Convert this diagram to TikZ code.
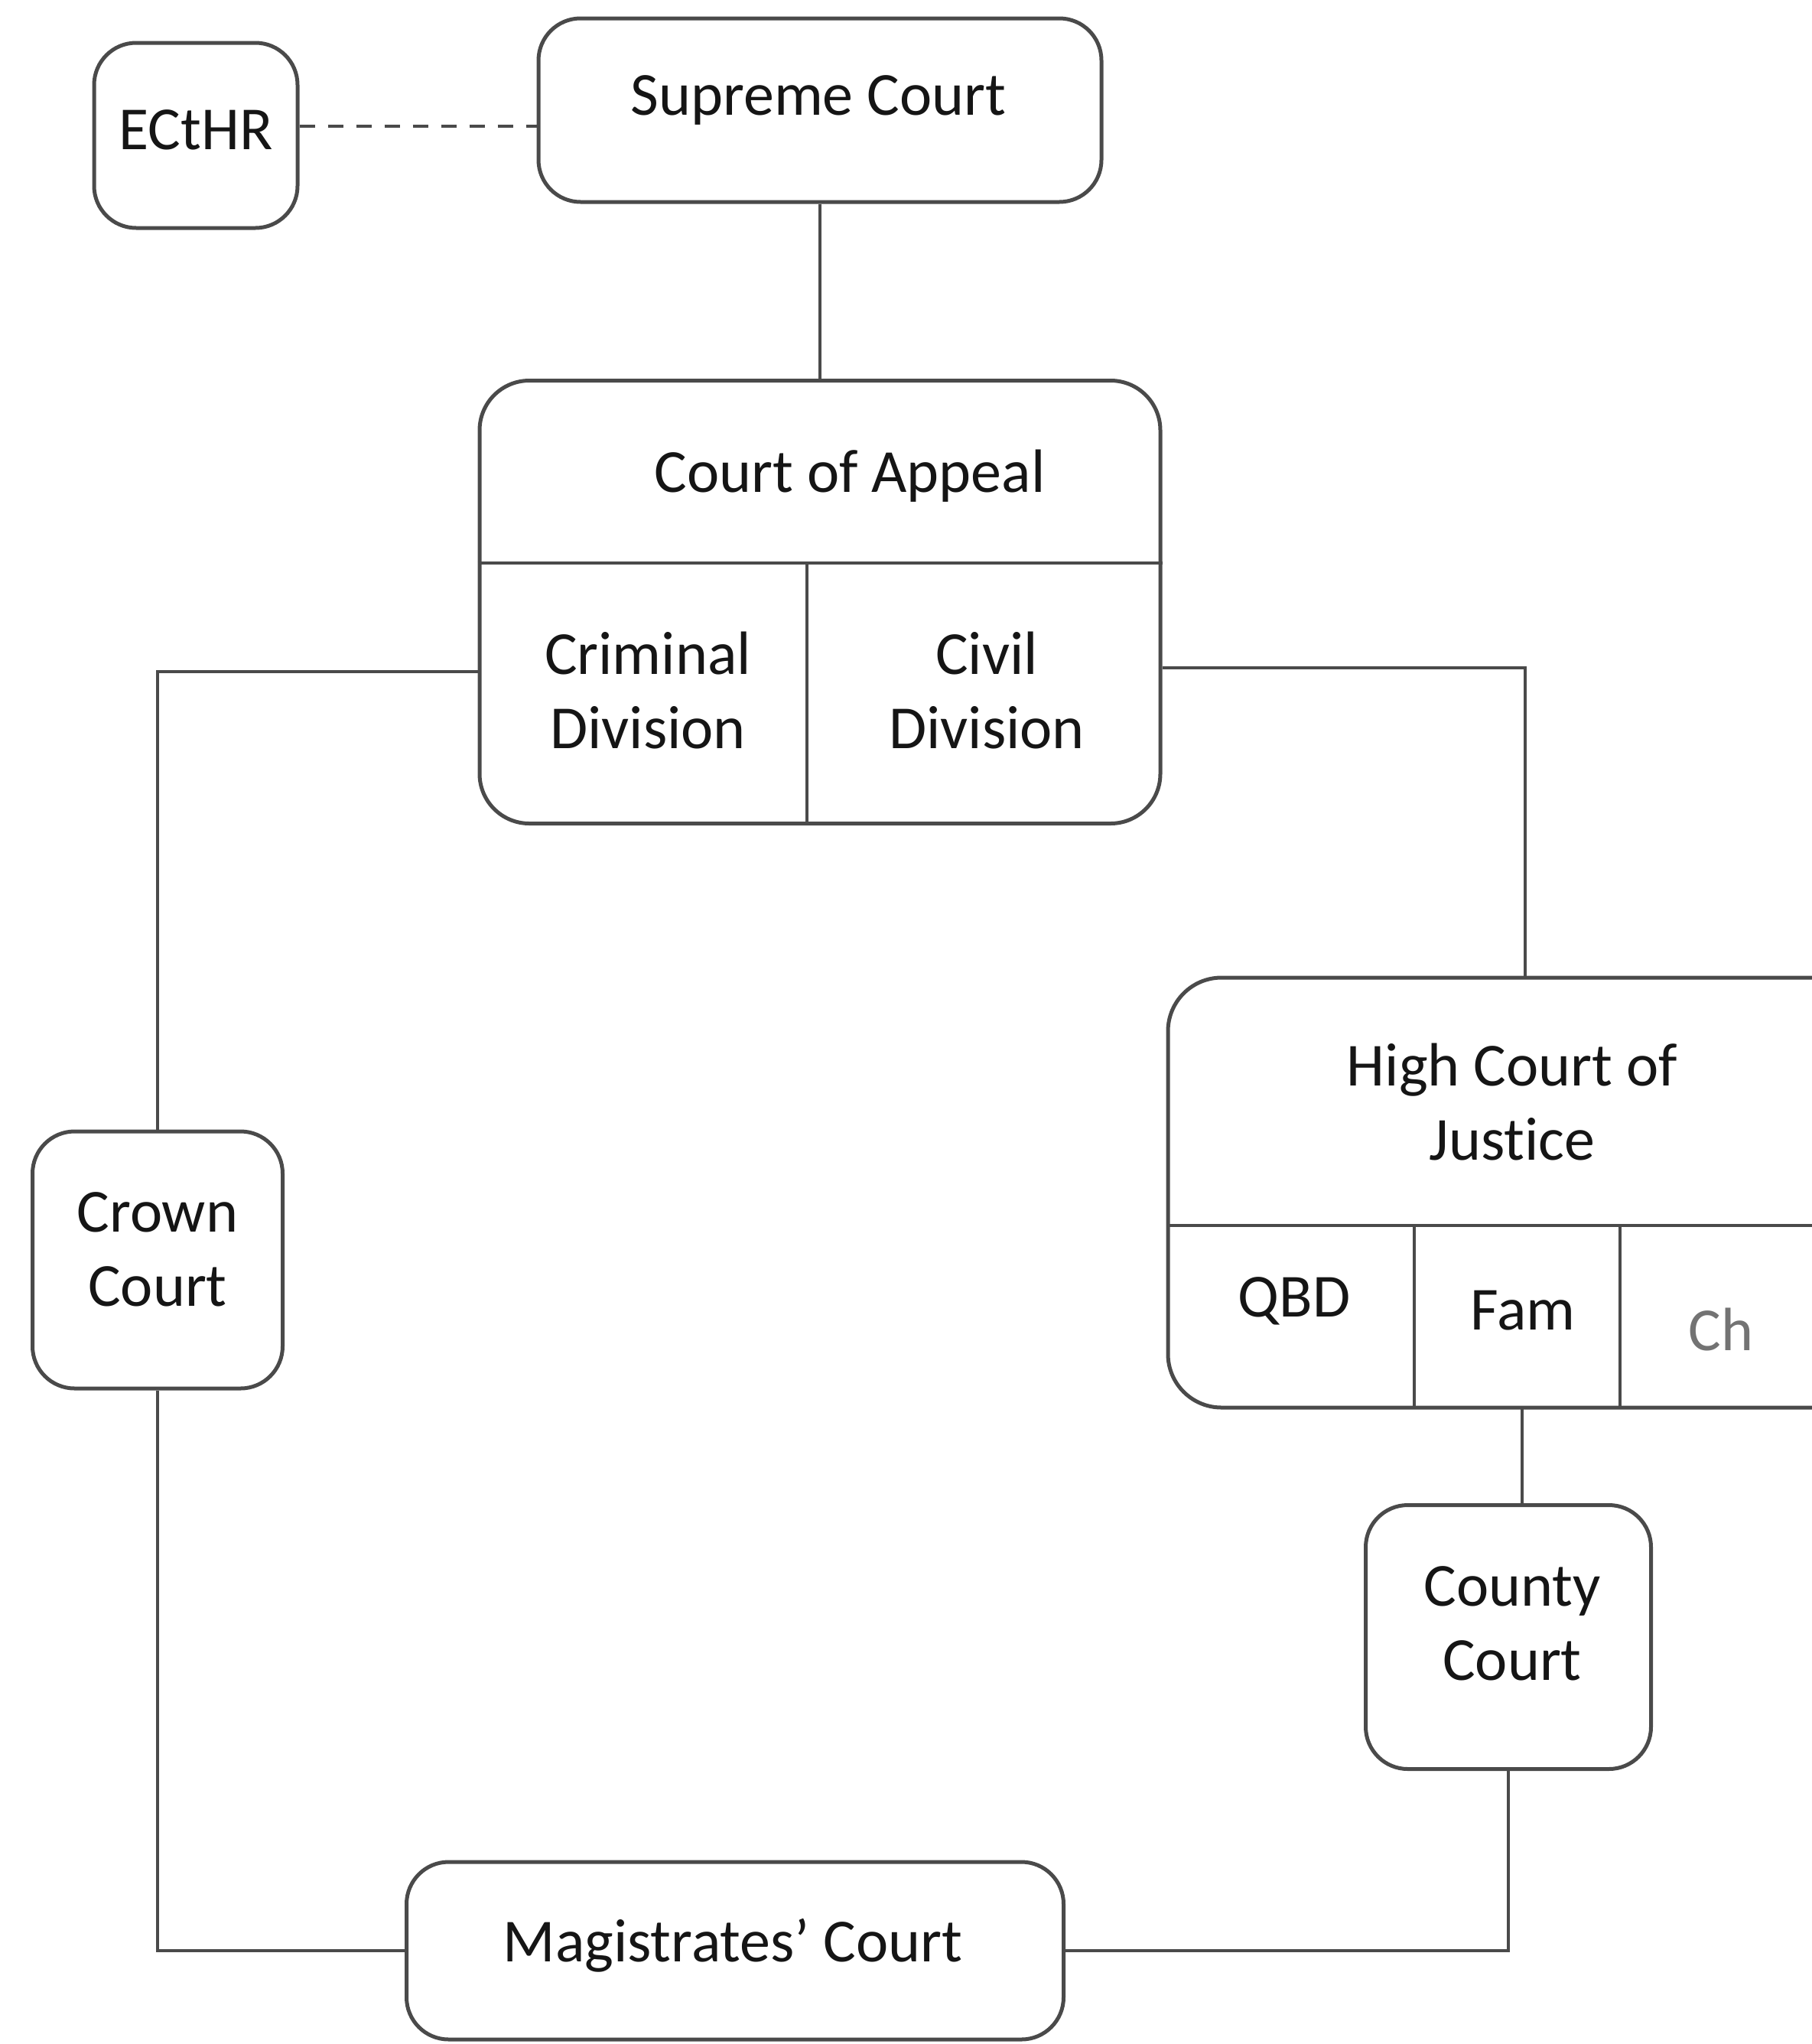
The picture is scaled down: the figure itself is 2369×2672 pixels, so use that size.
\documentclass[tikz,border=0pt]{standalone}
\usepackage{fontspec}
\setmainfont{Carlito}[Ligatures={ResetAll,NoCommon}]
\definecolor{linec}{HTML}{4A4A4A}
\definecolor{txtc}{HTML}{151515}
\begin{document}
\begin{tikzpicture}[x=1pt,y=-1pt,
  box/.style={draw=linec, line width=5pt, rounded corners=55pt, inner sep=0pt},
  lbl/.style={font=\fontsize{80}{97}\selectfont, text=txtc, align=center, inner sep=0pt},
  conn/.style={draw=linec, line width=3.5pt},
  divline/.style={draw=linec, line width=4.5pt}]
\fill[white] (0,0) rectangle (2369,2672);
\useasboundingbox (0,0) rectangle (2369,2672);
% boxes
\node[box, minimum width=266pt, minimum height=242pt] (ecthr) at (256,177) {};
\node[box, minimum width=736pt, minimum height=240pt] (supreme) at (1072,144) {};
\node[box, minimum width=890pt, minimum height=579pt, rounded corners=65pt] (coa) at (1072,787) {};
\node[box, minimum width=327pt, minimum height=336pt] (crown) at (206,1647) {};
\node[box, minimum width=373pt, minimum height=345pt] (county) at (1972,2140) {};
\node[box, minimum width=859pt, minimum height=232pt] (mag) at (961,2550) {};
% High Court (open at right edge)
\coordinate (hctop) at (1994,1278);
\coordinate (hcbot) at (1990,1840);
\draw[divline, line width=5pt, rounded corners=70pt] (2369,1278) -- (1527,1278) -- (1527,1840) -- (2369,1840);
\draw[divline] (1527,1602) -- (2369,1602);
\draw[divline] (1849,1602) -- (1849,1840);
\draw[divline] (2118,1602) -- (2118,1840);
% Court of Appeal dividers
\draw[divline] (coa.west |- 0,736) -- (coa.east |- 0,736);
\draw[divline] (1055,736) -- (coa.south -| 1055,0);
% labels
\node[lbl] (tecthr) at (256,170) {ECtHR};
\node[lbl] (tsupreme) at (1070,131) {Supreme Court};
\node[lbl] (tcoa) at (1111,622) {Court of Appeal};
\node[lbl] (tcrim) at (847,903) {Criminal\\Division};
\node[lbl] (tciv) at (1290,903) {Civil\\Division};
\node[lbl] (tcrown) at (206,1633) {Crown\\Court};
\node[lbl] (thc) at (1977,1440) {High Court of\\Justice};
\node[lbl] (tqbd) at (1692,1701) {QBD};
\node[lbl] (tfam) at (1991,1713) {Fam};
\node[lbl, text=black!55] (tch) at (2250,1738) {Ch};
\node[lbl] (tcounty) at (1977,2122) {County\\Court};
\node[lbl] (tmag) at (958,2543) {Magistrates' Court};
% connectors
\draw[conn, dash pattern=on 20pt off 17pt] (ecthr.east |- 0,165) -- (supreme.west |- 0,165);
\draw[conn] (supreme.south) -- (coa.north);
\draw[conn] (coa.west |- 0,878) -| (crown.north);
\draw[conn] (crown.south) |- (mag.west);
\draw[conn] (coa.east |- 0,873) -| (hctop);
\draw[conn] (hcbot) -- (hcbot |- county.north);
\draw[conn] (county.south) |- (mag.east);
\end{tikzpicture}
\end{document}
